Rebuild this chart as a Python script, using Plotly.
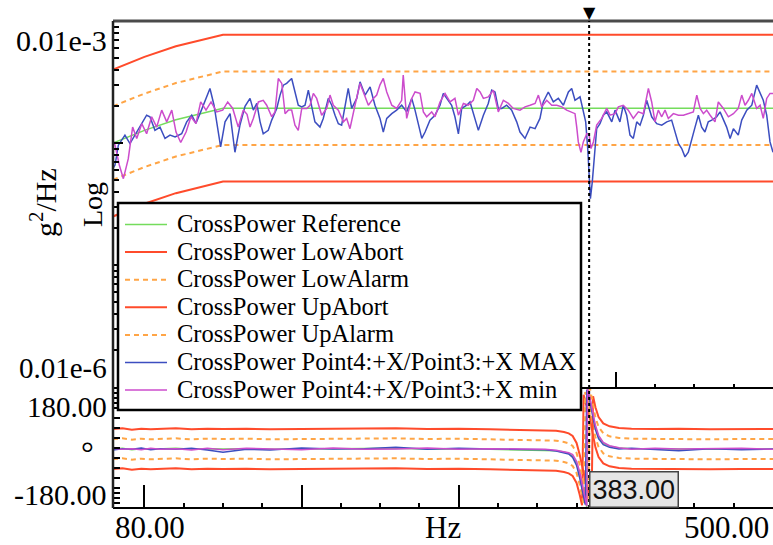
import plotly.graph_objects as go

# ---------------------------------------------------------------------------
# Cross power spectrum between Point4:+X and Point3:+X with its control limits
# ---------------------------------------------------------------------------

PSD_UNIT = 1e-6  # PSD values below are given in 1e-6 g^2/Hz

# Reference profile and tolerance bands (breakpoints, Hz)
LIMIT_FREQ = [80, 100, 120, 150, 500]
REF_PSD = [1.00, 1.27, 1.55, 1.93, 1.93]
UP_ABORT_PSD = [4.00, 5.08, 6.20, 7.72, 7.72]
UP_ALARM_PSD = [2.00, 2.54, 3.10, 3.86, 3.86]
LOW_ALARM_PSD = [0.50, 0.635, 0.775, 0.965, 0.965]
LOW_ABORT_PSD = [0.25, 0.318, 0.388, 0.483, 0.483]

# Measured envelope, MAX
MAX_FREQ = [
    80.0, 81.3, 83.4, 87.6, 90.8, 94.0, 97.2, 101.4, 103.5, 106.7,
    109.9, 113.1, 116.3, 119.5, 123.7, 126.9, 130.1, 132.8, 135.8, 138.5,
    141.7, 144.3, 146.4, 148.5, 151.3, 154.5, 157.6, 160.8, 164.0, 167.2,
    169.3, 171.5, 173.6, 175.6, 178.8, 181.0, 184.2, 186.3, 188.4, 190.5,
    193.7, 195.8, 197.9, 200.1, 202.2, 204.3, 206.5, 208.5, 211.7, 213.8,
    217.0, 219.2, 221.3, 223.4, 225.5, 227.6, 229.7, 231.9, 235.1, 237.2,
    240.4, 243.6, 246.7, 249.9, 252.0, 254.2, 257.4, 260.5, 263.7, 266.9,
    270.1, 272.2, 274.3, 276.5, 278.6, 281.7, 284.9, 288.1, 290.2, 292.4,
    295.5, 297.6, 299.8, 301.9, 305.1, 307.2, 309.3, 312.5, 315.7, 318.8,
    321.0, 323.1, 325.2, 327.4, 330.5, 333.7, 336.9, 339.0, 342.2, 345.4,
    348.6, 351.7, 353.8, 357.0, 360.2, 363.4, 366.6, 369.8, 371.9, 374.0,
    377.2, 379.3, 380.8, 382.1, 382.9, 383.8, 385.0, 386.3, 387.8, 389.9,
    392.0, 394.2, 397.4, 399.5, 402.6, 404.7, 406.9, 409.0, 411.1, 413.3,
    415.4, 417.5, 419.6, 422.8, 426.0, 429.2, 432.4, 435.5, 437.6, 439.8,
    441.9, 444.0, 446.1, 448.3, 450.4, 452.5, 454.6, 456.7, 458.8, 461.0,
    464.2, 466.3, 468.4, 470.5, 472.7, 474.8, 477.9, 480.1, 483.3, 486.5,
    489.6, 491.8, 493.8, 496.0, 498.1, 500.0,
]
MAX_PSD = [
    0.62, 0.66, 0.96, 1.16, 0.99, 1.16, 1.35, 1.69, 1.64, 1.27,
    1.35, 1.09, 1.16, 1.12, 1.19, 1.49, 1.69, 1.45, 1.80, 2.24,
    2.80, 2.04, 1.40, 0.93, 1.49, 1.74, 0.84, 1.40, 2.00, 2.32,
    1.86, 2.11, 1.49, 1.19, 1.27, 1.54, 1.92, 2.47, 2.98, 3.08,
    3.38, 2.62, 2.04, 1.98, 2.04, 2.71, 2.04, 1.49, 1.35, 1.59,
    2.32, 2.04, 1.69, 1.44, 1.40, 1.92, 2.80, 1.92, 2.32, 3.17,
    2.47, 2.88, 2.04, 1.59, 1.23, 1.59, 1.74, 1.86, 2.04, 1.80,
    2.32, 1.86, 1.44, 1.09, 1.23, 1.54, 1.69, 2.04, 2.55, 2.32,
    2.04, 1.64, 1.19, 1.92, 2.04, 2.17, 1.74, 1.27, 1.69, 2.11,
    2.71, 2.62, 1.92, 1.92, 2.04, 1.86, 1.49, 1.23, 1.09, 1.35,
    1.31, 1.59, 2.17, 2.62, 2.17, 2.32, 2.04, 2.62, 2.80, 2.24,
    2.39, 1.86, 1.49, 0.90, 0.54, 0.35, 0.48, 0.79, 1.31, 1.44,
    1.69, 1.80, 1.49, 1.86, 1.49, 2.04, 1.69, 1.16, 1.09, 1.49,
    1.40, 1.69, 2.24, 1.64, 1.44, 1.40, 1.49, 1.54, 1.23, 0.99,
    0.90, 0.77, 0.84, 1.09, 1.35, 1.69, 1.35, 1.23, 1.49, 1.54,
    1.64, 1.80, 1.54, 1.35, 1.09, 1.31, 1.16, 1.54, 1.86, 2.04,
    2.98, 2.55, 2.24, 1.69, 1.02, 0.84,
]

# Measured envelope, min
MIN_FREQ = [
    80.0, 81.3, 84.0, 86.6, 89.7, 92.5, 95.1, 98.3, 101.4, 104.6,
    107.8, 111.0, 114.2, 117.4, 120.1, 123.1, 126.5, 129.6, 132.8, 135.8,
    139.2, 142.4, 146.0, 149.8, 153.0, 156.2, 159.7, 162.9, 165.3, 167.2,
    169.3, 172.5, 175.6, 177.8, 181.0, 183.1, 185.2, 187.4, 189.5, 191.6,
    193.7, 195.8, 197.9, 200.1, 203.3, 205.4, 207.5, 209.6, 212.8, 216.0,
    218.1, 220.2, 223.4, 226.6, 228.7, 230.8, 234.0, 237.2, 239.3, 242.5,
    245.7, 247.8, 249.9, 252.0, 254.2, 257.4, 260.5, 263.7, 264.7, 266.9,
    270.1, 272.2, 275.4, 277.5, 279.6, 282.8, 284.9, 288.1, 291.3, 294.5,
    297.6, 299.8, 303.0, 306.1, 309.3, 311.5, 313.6, 315.7, 318.8, 322.0,
    325.2, 328.4, 331.6, 334.7, 339.0, 342.2, 345.4, 348.6, 350.7, 352.8,
    356.0, 359.2, 362.4, 365.6, 368.7, 371.9, 374.0, 375.1, 376.1, 377.8,
    379.3, 381.5, 382.9, 384.2, 385.7, 387.8, 391.0, 394.2, 396.3, 399.5,
    401.6, 404.7, 407.9, 411.1, 414.3, 417.5, 419.6, 420.7, 422.8, 424.9,
    427.0, 429.2, 431.3, 433.4, 436.6, 439.8, 443.0, 446.1, 449.3, 451.5,
    453.6, 455.7, 457.8, 460.0, 463.1, 465.2, 468.4, 471.6, 474.8, 477.9,
    480.1, 482.2, 484.3, 486.5, 489.6, 491.8, 493.8, 496.0, 498.1, 500.0,
]
MIN_PSD = [
    1.05, 0.96, 0.66, 0.51, 0.74, 1.35, 1.09, 1.44, 1.19, 1.64,
    1.35, 1.86, 1.49, 1.86, 1.23, 1.01, 1.23, 1.64, 1.44, 2.17,
    1.86, 2.17, 1.80, 1.86, 2.17, 1.92, 1.35, 1.86, 1.72, 1.35,
    1.59, 2.17, 2.24, 2.04, 1.64, 1.80, 3.38, 3.08, 1.74, 1.86,
    1.86, 1.40, 1.27, 1.92, 1.92, 2.04, 2.55, 2.32, 1.69, 1.92,
    2.47, 2.04, 1.86, 1.49, 1.59, 1.31, 2.04, 3.08, 2.62, 2.04,
    2.32, 2.47, 3.00, 3.38, 2.62, 2.04, 1.92, 2.24, 3.60, 1.59,
    2.32, 2.62, 2.55, 1.80, 1.64, 1.80, 1.64, 2.17, 2.55, 2.17,
    2.32, 1.69, 2.11, 2.04, 2.24, 2.80, 2.62, 2.32, 2.39, 2.71,
    1.80, 2.24, 2.11, 1.92, 1.86, 1.98, 2.04, 2.11, 2.47, 1.98,
    2.24, 2.04, 2.04, 1.98, 1.86, 1.80, 1.74, 1.35, 1.02, 0.84,
    1.02, 1.19, 1.19, 0.90, 1.02, 1.40, 1.59, 1.92, 1.69, 1.74,
    1.98, 2.04, 1.86, 1.59, 1.80, 1.74, 2.42, 2.80, 2.17, 1.49,
    1.86, 1.64, 1.86, 1.59, 1.74, 1.69, 1.69, 1.74, 1.80, 2.47,
    1.92, 1.74, 1.86, 1.69, 1.49, 2.17, 1.92, 1.64, 1.74, 1.92,
    2.47, 2.04, 2.24, 2.55, 1.92, 2.04, 1.59, 2.32, 2.55, 2.55,
]

# Phase (degrees), wrapped to [-180, 180]
PHASE_FREQ = [
    80, 86, 92, 98, 104, 110, 120, 130, 140, 150,
    165, 180, 200, 220, 240, 260, 280, 300, 320, 340,
    355, 362, 367, 370, 372.5, 375, 377, 378.5, 379.5, 380.5,
    381.5, 382, 382.5, 383.5, 384.5, 385.5, 387, 389, 392, 396,
    402, 410, 425, 440, 460, 480, 500,
]
REF_PHASE = [
    -3, -1, -5, -2, -4, -3, -1, -4, -2, -3,
    -2, -4, -3, -2, -3, -1, -3, -2, -4, -5,
    -6, -8, -12, -16, -24, -45, -80, -112, -140, -162,
    -178, 178, 170, 150, 122, 95, 62, 33, 14, 5,
    0, -2, -3, -2, -4, -3, -3,
]
UP_ABORT_PHASE = [
    57, 59, 55, 58, 56, 57, 59, 56, 58, 57,
    58, 56, 57, 58, 57, 59, 57, 58, 56, 55,
    54, 52, 48, 44, 36, 15, -20, -52, -80, -102,
    -118, -122, -130, -150, -178, 155, 122, 93, 74, 65,
    60, 58, 57, 58, 56, 57, 57,
]
UP_ALARM_PHASE = [
    27, 29, 25, 28, 26, 27, 29, 26, 28, 27,
    28, 26, 27, 28, 27, 29, 27, 28, 26, 25,
    24, 22, 18, 14, 6, -15, -50, -82, -110, -132,
    -148, -152, -160, 180, 152, 125, 92, 63, 44, 35,
    30, 28, 27, 28, 26, 27, 27,
]
LOW_ALARM_PHASE = [
    -33, -31, -35, -32, -34, -33, -31, -34, -32, -33,
    -32, -34, -33, -32, -33, -31, -33, -32, -34, -35,
    -36, -38, -42, -46, -54, -75, -110, -142, -170, 168,
    152, 148, 140, 120, 92, 65, 32, 3, -16, -25,
    -30, -32, -33, -32, -34, -33, -33,
]
LOW_ABORT_PHASE = [
    -63, -61, -65, -62, -64, -63, -61, -64, -62, -63,
    -62, -64, -63, -62, -63, -61, -63, -62, -64, -65,
    -66, -68, -72, -76, -84, -105, -140, -172, 160, 138,
    122, 118, 110, 90, 62, 35, 2, -27, -46, -55,
    -60, -62, -63, -62, -64, -63, -63,
]
MAX_PHASE = [
    -6, -2, -4, 0, -5, -2, -4, -1, -6, -13,
    -4, -6, 0, -3, -2, 2, -4, -1, -3, -4,
    -5, -9, -14, -18, -28, -52, -90, -122, -150, -170,
    175, 170, 160, 140, 112, 85, 55, 28, 10, 2,
    -3, -1, -4, -8, -2, -5, -3,
]
MIN_PHASE = [
    -1, -4, -2, -5, -1, -4, -2, -6, -1, -5,
    -1, -3, -5, 0, -4, -3, 0, -4, -2, -3,
    -4, -7, -10, -14, -20, -40, -72, -105, -135, -158,
    -175, 179, 172, 152, 126, 100, 68, 38, 17, 7,
    1, -4, -1, -3, -3, -1, -4,
]

# Cursor and axis annotations
MARKER_HZ = 383.0
X_RANGE = [80, 500]
PSD_DECADES = [1e-8, 1e-7, 1e-6, 1e-5]
PHASE_RANGE = [-180, 180]
X_MAJOR = [100, 200, 300, 400, 500]
X_MID = [150, 250, 350, 450]
PHASE_TICKS = [165, 150, 135, 120, 90, 60, 30, 0, -30, -60, -90, -120, -135, -150, -165]
X_END_LABELS = ["80.00", "500.00"]
PSD_END_LABELS = ["0.01e-3", "0.01e-6"]
PHASE_END_LABELS = ["180.00", "-180.00"]
X_TITLE = "Hz"
PSD_TITLE = "g<sup>2</sup>/Hz"
PSD_SCALE = "Log"
PHASE_TITLE = "°"

# ---------------------------------------------------------------------------
# Layout geometry (pixels)
W, H = 773, 545
LEFT, RIGHT = 113, 773
TOP, MID_TOP, MID_BOT, BOTTOM = 21, 387, 388, 508


def fx(p):
    return p / W


def fy(p):
    return 1 - p / H


SERIF = "Liberation Serif, Times New Roman, serif"
SANS = "Liberation Sans, Arial, sans-serif"

STYLE = {
    "ref": dict(color="#74dc5c", width=1.5),
    "abort": dict(color="#ff4b2b", width=2),
    "alarm": dict(color="#ffa546", width=2, dash="5px,4px"),
    "max": dict(color="#3c4ec0", width=1.5),
    "min": dict(color="#cc4ccc", width=1.5),
}

SERIES = [
    ("CrossPower Reference", LIMIT_FREQ, REF_PSD, REF_PHASE, "ref"),
    ("CrossPower LowAbort", LIMIT_FREQ, LOW_ABORT_PSD, LOW_ABORT_PHASE, "abort"),
    ("CrossPower LowAlarm", LIMIT_FREQ, LOW_ALARM_PSD, LOW_ALARM_PHASE, "alarm"),
    ("CrossPower UpAbort", LIMIT_FREQ, UP_ABORT_PSD, UP_ABORT_PHASE, "abort"),
    ("CrossPower UpAlarm", LIMIT_FREQ, UP_ALARM_PSD, UP_ALARM_PHASE, "alarm"),
    ("CrossPower Point4:+X/Point3:+X MAX", MAX_FREQ, MAX_PSD, MAX_PHASE, "max"),
    ("CrossPower Point4:+X/Point3:+X min", MIN_FREQ, MIN_PSD, MIN_PHASE, "min"),
]

fig = go.Figure()
for name, freq, psd, phase, key in SERIES:
    fig.add_trace(go.Scatter(
        x=freq, y=[v * PSD_UNIT for v in psd], mode="lines", name=name,
        line=STYLE[key], xaxis="x", yaxis="y", showlegend=False, hoverinfo="skip",
    ))
    fig.add_trace(go.Scatter(
        x=PHASE_FREQ, y=phase, mode="lines", name=name,
        line=STYLE[key], xaxis="x2", yaxis="y2", showlegend=False, hoverinfo="skip",
    ))

axis_base = dict(
    ticks="inside", tickcolor="black", tickwidth=1.5, showticklabels=False,
    showgrid=False, zeroline=False, showline=False, fixedrange=True,
)
psd_minor = [k * d for d in PSD_DECADES[:-1] for k in range(2, 10)]

fig.update_layout(
    width=W, height=H, margin=dict(l=0, r=0, t=0, b=0),
    paper_bgcolor="white", plot_bgcolor="white", showlegend=False,
    xaxis=dict(domain=[fx(LEFT), fx(RIGHT)], range=X_RANGE, anchor="y",
               tickmode="array", tickvals=X_MAJOR, ticklen=15,
               minor=dict(dtick=25, tick0=0, ticks="inside", ticklen=3,
                          tickcolor="black", tickwidth=1.5), **axis_base),
    xaxis3=dict(overlaying="x", anchor="y", range=X_RANGE, tickmode="array",
                tickvals=X_MID, ticklen=7, **axis_base),
    yaxis=dict(domain=[fy(MID_TOP), fy(TOP)], type="log", range=[-8, -5], anchor="x",
               tickmode="array", tickvals=PSD_DECADES, ticklen=10,
               minor=dict(tickmode="array", tickvals=psd_minor, ticks="inside",
                          ticklen=6, tickcolor="black", tickwidth=1.5), **axis_base),
    xaxis2=dict(domain=[fx(LEFT), fx(RIGHT)], range=X_RANGE, anchor="y2",
                tickmode="array", tickvals=X_MAJOR, ticklen=23,
                minor=dict(dtick=25, tick0=0, ticks="inside", ticklen=5,
                           tickcolor="black", tickwidth=1.5), **axis_base),
    xaxis4=dict(overlaying="x2", anchor="y2", range=X_RANGE, tickmode="array",
                tickvals=X_MID, ticklen=10, **axis_base),
    yaxis2=dict(domain=[fy(BOTTOM), fy(MID_BOT)], range=PHASE_RANGE, anchor="x2",
                tickmode="array", tickvals=PHASE_TICKS, ticklen=7, **axis_base),
)

shapes = []
annotations = []


def hline(x0, x1, y, color="black", width=2, dash="solid"):
    shapes.append(dict(type="line", xref="paper", yref="paper",
                       x0=fx(x0), x1=fx(x1), y0=fy(y), y1=fy(y),
                       line=dict(color=color, width=width, dash=dash)))


# frame
hline(LEFT, RIGHT, TOP, color="#4a4a4a", width=3)
hline(LEFT, RIGHT, MID_BOT, width=2)
hline(LEFT, RIGHT, BOTTOM, width=2)
shapes.append(dict(type="line", xref="paper", yref="paper",
                   x0=fx(LEFT), x1=fx(LEFT), y0=fy(BOTTOM), y1=fy(TOP),
                   line=dict(color="#222", width=2.5)))

# cursor line
shapes.append(dict(type="line", xref="x", yref="paper", x0=MARKER_HZ, x1=MARKER_HZ,
                   y0=fy(BOTTOM), y1=fy(TOP), line=dict(color="black", width=2, dash="dot")))

# legend panel
LEG_X0, LEG_X1, LEG_Y0, LEG_Y1 = 118, 581, 203, 410
ROW0, ROW_STEP = 223.5, 27.6
shapes.append(dict(type="rect", xref="paper", yref="paper",
                   x0=fx(LEG_X0), x1=fx(LEG_X1), y0=fy(LEG_Y1), y1=fy(LEG_Y0),
                   line=dict(color="black", width=2.5), fillcolor="white"))
for i, (name, _, _, _, key) in enumerate(SERIES):
    yc = ROW0 + i * ROW_STEP
    st = STYLE[key]
    hline(125, 167, yc + 1, color=st["color"], width=st["width"], dash=st.get("dash", "solid"))
    annotations.append(dict(text=name, xref="paper", yref="paper", x=fx(175),
                            y=fy(yc), xanchor="left", yanchor="middle", showarrow=False,
                            font=dict(family=SERIF, size=24.5, color="black")))


def label(text, x, y, xanchor="center", size=30, angle=0, family=SERIF):
    annotations.append(dict(text=text, xref="paper", yref="paper", x=fx(x), y=fy(y),
                            xanchor=xanchor, yanchor="middle", showarrow=False,
                            textangle=angle, font=dict(family=family, size=size, color="black")))


label(PSD_END_LABELS[0], 109, 41, xanchor="right")
label(PSD_END_LABELS[1], 109, 368, xanchor="right", size=29)
label(PHASE_END_LABELS[0], 109, 407, xanchor="right", size=29)
label(PHASE_END_LABELS[1], 109, 494, xanchor="right")
label(X_END_LABELS[0], LEFT, 527, xanchor="left", size=31)
label(X_TITLE, (LEFT + RIGHT) / 2, 527, size=31)
label(X_END_LABELS[1], RIGHT - 2, 527, xanchor="right", size=31)
label(PSD_TITLE, 43, 203, angle=-90, size=30)
label(PSD_SCALE, 93, 205, angle=-90, size=28)
label(PHASE_TITLE, 87, 453, size=32)

# cursor head and readout
annotations.append(dict(text="▼", xref="x", yref="paper", x=MARKER_HZ, y=fy(13),
                        xanchor="center", yanchor="middle", showarrow=False,
                        font=dict(family="DejaVu Sans", size=16, color="black")))
annotations.append(dict(text=f"{MARKER_HZ:.2f}", xref="x", yref="paper", x=MARKER_HZ,
                        y=fy(BOTTOM), xanchor="left", yanchor="bottom", showarrow=False,
                        bgcolor="#e6e6e6", bordercolor="#444", borderwidth=1.5, borderpad=2,
                        font=dict(family=SANS, size=27, color="#111")))

fig.update_layout(shapes=shapes, annotations=annotations)
fig.write_html("out.html")
